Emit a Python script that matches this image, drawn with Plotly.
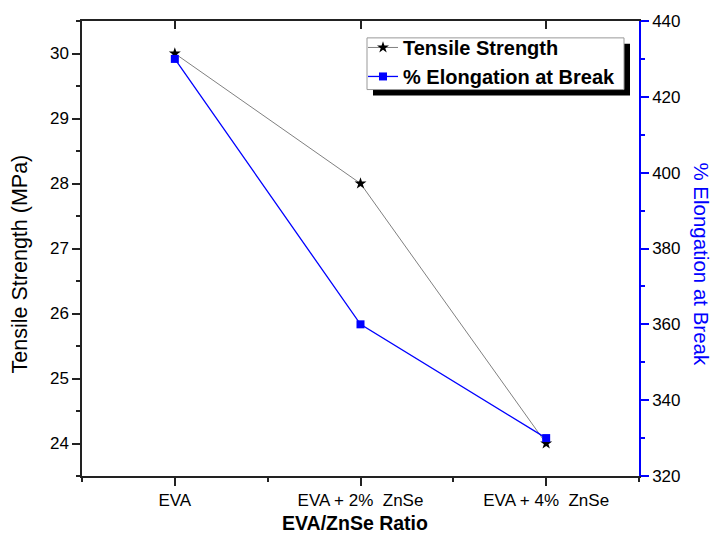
import plotly.graph_objects as go

categories = ["EVA", "EVA + 2%  ZnSe", "EVA + 4%  ZnSe"]
tensile_strength = [30, 28, 24]
elongation_at_break = [430, 360, 330]
left_ticks = [24, 25, 26, 27, 28, 29, 30]
right_ticks = [320, 340, 360, 380, 400, 420, 440]

xpos = list(range(len(categories)))
FONT = "Arial, Liberation Sans, sans-serif"
AX = "#222222"

W, H = 713, 539
ML, MR, MT, MB = 82, 74, 18, 63
PW, PH = W - ML - MR, H - MT - MB


def px(x):
    return (x - ML) / PW


def py(y):
    return (H - MB - y) / PH


fig = go.Figure()
fig.add_trace(go.Scatter(
    x=xpos, y=tensile_strength, name="Tensile Strength", mode="lines+markers",
    line=dict(color="#808080", width=1),
    marker=dict(symbol="star", size=9, color="black"),
))
fig.add_trace(go.Scatter(
    x=xpos, y=elongation_at_break, name="% Elongation at Break", mode="lines+markers",
    line=dict(color="#0000ff", width=1.3),
    marker=dict(symbol="square", size=8, color="#0000ff"),
    yaxis="y2",
))
# invisible trace for the top axis
fig.add_trace(go.Scatter(x=xpos, y=tensile_strength, xaxis="x2", mode="lines",
                         line=dict(width=0), showlegend=False, hoverinfo="skip"))

fig.update_layout(
    width=W, height=H,
    margin=dict(l=ML, r=MR, t=MT, b=MB),
    paper_bgcolor="white", plot_bgcolor="white",
    font=dict(family=FONT, size=17, color="black"),
    showlegend=True,
    xaxis=dict(
        range=[-0.5, 2.5], tickvals=xpos, ticktext=categories,
        ticks="outside", ticklen=8, tickwidth=1.5, tickcolor=AX,
        showline=True, linecolor=AX, linewidth=1.5, showgrid=False, zeroline=False,
        minor=dict(tickvals=[-0.5, 0.5, 1.5, 2.5], ticklen=4, tickwidth=1.5, tickcolor=AX, showgrid=False),
        tickfont=dict(size=17),
    ),
    xaxis2=dict(
        range=[-0.5, 2.5], overlaying="x", side="top", tickvals=xpos,
        ticks="inside", ticklen=8, tickwidth=1.5, tickcolor=AX,
        showline=True, linecolor=AX, linewidth=1.5, showgrid=False, zeroline=False,
        showticklabels=False,
    ),
    yaxis=dict(
        range=[23.5, 30.5], tickvals=left_ticks,
        ticks="outside", ticklen=8, tickwidth=1.5, tickcolor=AX,
        showline=True, linecolor=AX, linewidth=1.5, showgrid=False, zeroline=False,
        minor=dict(dtick=0.5, ticklen=4, tickwidth=1.5, tickcolor=AX, showgrid=False),
        tickfont=dict(size=17),
    ),
    yaxis2=dict(
        range=[320, 440], tickvals=right_ticks, overlaying="y", side="right",
        ticks="outside", ticklen=8, tickwidth=1.5, tickcolor="#0000ff",
        showline=True, linecolor="#0000ff", linewidth=1.5, showgrid=False, zeroline=False,
        minor=dict(dtick=10, ticklen=4, tickwidth=1.5, tickcolor="#0000ff", showgrid=False),
        tickfont=dict(size=17, color="black"),
    ),
    legend=dict(
        x=px(363), y=py(25), xanchor="left", yanchor="top",
        bgcolor="rgba(0,0,0,0)", borderwidth=0,
        font=dict(family=FONT, size=20, color="black", weight="bold"),
        tracegroupgap=0, itemwidth=30,
    ),
    annotations=[
        dict(text="Tensile Strength (MPa)", xref="paper", yref="paper", x=px(20), y=py(263),
             textangle=-90, showarrow=False, xanchor="center", yanchor="middle",
             font=dict(size=21.5, color="black")),
        dict(text="% Elongation at Break", xref="paper", yref="paper", x=px(702), y=py(263),
             textangle=90, showarrow=False, xanchor="center", yanchor="middle",
             font=dict(size=20.5, color="#0000ff")),
        dict(text="<b>EVA/ZnSe Ratio</b>", xref="paper", yref="paper", x=px(355), y=py(523),
             showarrow=False, xanchor="center", yanchor="middle",
             font=dict(size=19.5, color="black")),
    ],
    shapes=[
        dict(type="rect", xref="paper", yref="paper", layer="above",
             x0=px(373), x1=px(630), y0=py(93), y1=py(41),
             fillcolor="black", line=dict(width=0)),
        dict(type="rect", xref="paper", yref="paper", layer="above",
             x0=px(367), x1=px(624), y0=py(87), y1=py(35),
             fillcolor="white", line=dict(color="#999999", width=1)),
    ],
)

fig.write_html("out.html", config={"displayModeBar": False},
               post_script="document.body.style.margin='0';document.body.style.padding='0';")
